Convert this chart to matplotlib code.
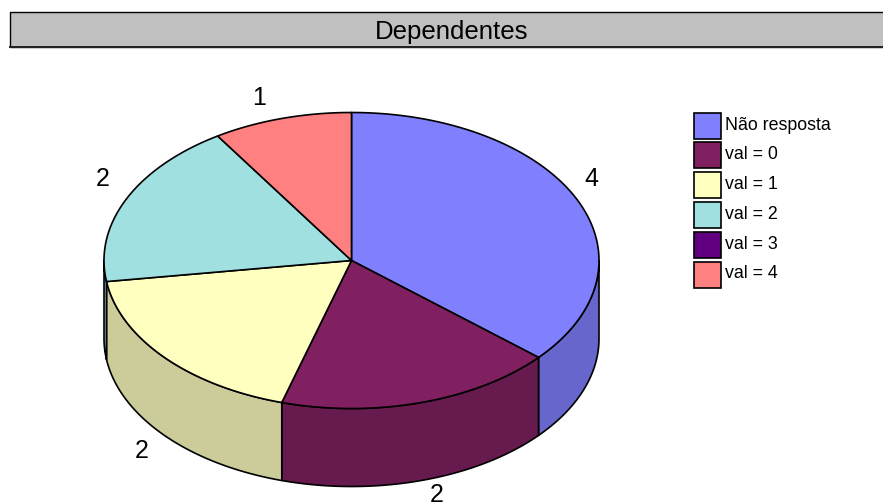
import numpy as np
import matplotlib
matplotlib.use("Agg")
import matplotlib.pyplot as plt
from matplotlib.patches import Polygon, Rectangle

plt.rcParams['font.family'] = ['Liberation Sans', 'DejaVu Sans']

# --- Data ---
title = "Dependentes"
categories = ["Não resposta", "val = 0", "val = 1", "val = 2", "val = 3", "val = 4"]
values = [4, 2, 2, 2, 0, 1]
colors = ["#8080FF", "#802060", "#FFFFC0", "#A0E0E0", "#600080", "#FF8080"]

# --- Layout, in pixels ---
cx, cy = 351.5, 260.5
rx, ry = 247.5, 148
depth = 78
shade = 0.8
# label offset from the rim point at the middle of each slice
label_offsets = [(14.5, -20), (15, 14), (-23, 16), (-23.5, -20), (0, 0), (-22.5, -20)]


def rim(angle, drop=0):
    # angle in degrees, clockwise from the top of the pie
    a = np.radians(angle)
    return np.column_stack([cx + rx * np.sin(a), cy - ry * np.cos(a) + drop])


fig = plt.figure(figsize=(8.83, 5.04), dpi=100)
ax = fig.add_axes([0, 0, 1, 1])
ax.set_xlim(0, 883)
ax.set_ylim(504, 0)
ax.axis("off")

# --- Title bar ---
ax.add_patch(Rectangle((9.5, 12), 880, 35, facecolor="#C0C0C0", edgecolor="black", linewidth=1.0))
ax.plot([10, 883], [47, 47], color="#222222", linewidth=1.4)
ax.text(452, 31.5, title, fontsize=18.6, ha="center", va="center", color="black")

# --- Pie ---
total = sum(values)
edges = np.concatenate([[0], np.cumsum(values)]) / total * 360

# side walls: only the front half (90..270 deg) can be seen
for start, end, color, v in zip(edges[:-1], edges[1:], colors, values):
    lo, hi = max(start, 90), min(end, 270)
    if v == 0 or lo >= hi:
        continue
    arc = np.linspace(lo, hi, 200)
    pts = np.vstack([rim(arc), rim(arc[::-1], depth)])
    side = tuple(c * shade for c in matplotlib.colors.to_rgb(color))
    ax.add_patch(Polygon(pts, closed=True, facecolor=side, edgecolor="black",
                         linewidth=1.2, joinstyle="round", zorder=2))

# top faces
for start, end, color, v in zip(edges[:-1], edges[1:], colors, values):
    if v == 0:
        continue
    arc = np.linspace(start, end, 300)
    pts = np.vstack([[cx, cy], rim(arc)])
    ax.add_patch(Polygon(pts, closed=True, facecolor=color, edgecolor="black",
                         linewidth=1.2, joinstyle="round", zorder=3))

# value labels
for start, end, v, off in zip(edges[:-1], edges[1:], values, label_offsets):
    if v == 0:
        continue
    mid = (start + end) / 2
    x, y = rim(mid, depth if 90 < mid < 270 else 0)[0]
    ax.text(x + off[0], y + off[1], str(v), fontsize=18, ha="center", va="center", color="black")

# --- Legend ---
for i, (name, color) in enumerate(zip(categories, colors)):
    y = 112.5 + i * 29.8
    ax.add_patch(Rectangle((694, y), 26.5, 26, facecolor=color, edgecolor="black", linewidth=1.2))
    ax.text(725, y + 12.5, name, fontsize=12.8, ha="left", va="center", color="black")

fig.savefig("out.png", dpi=100)
